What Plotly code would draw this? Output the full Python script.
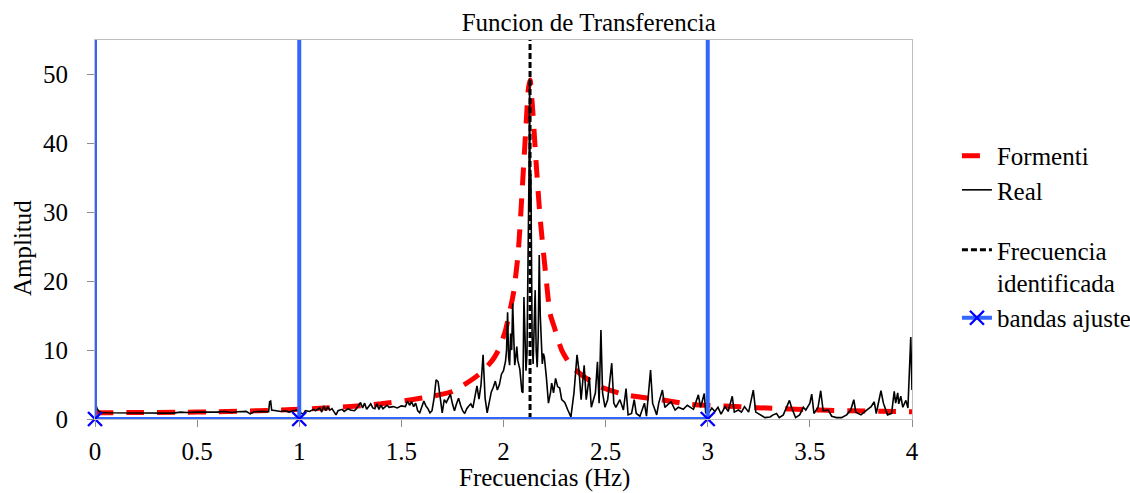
import plotly.graph_objects as go

# Measured transfer function (real record)
real_freq = [
    0.000, 0.005, 0.01, 0.02, 0.03, 0.06, 0.10, 0.15, 0.20, 0.25, 0.30, 0.35, 0.38, 0.42,
    0.45, 0.50, 0.55, 0.60, 0.63, 0.67, 0.70, 0.74, 0.76, 0.78, 0.82, 0.85, 0.855, 0.86,
    0.865, 0.88, 0.91, 0.93, 0.95, 0.97, 0.99,
    1.00, 1.02, 1.03, 1.05, 1.07, 1.08, 1.10, 1.11, 1.12, 1.13, 1.14, 1.15, 1.16, 1.18,
    1.19, 1.21, 1.22, 1.24, 1.25, 1.27, 1.28, 1.30, 1.31, 1.32, 1.33, 1.35, 1.36, 1.37,
    1.38, 1.39, 1.40, 1.41, 1.43, 1.44, 1.46, 1.48, 1.50, 1.52, 1.53, 1.54, 1.55, 1.56,
    1.57, 1.58, 1.59, 1.60, 1.61, 1.62, 1.63, 1.64, 1.65, 1.66, 1.67, 1.68, 1.69, 1.70,
    1.71, 1.72, 1.73, 1.74, 1.75, 1.76, 1.77, 1.78, 1.79, 1.80, 1.81, 1.82, 1.83, 1.84,
    1.85, 1.86, 1.87, 1.88, 1.89, 1.90, 1.91, 1.92, 1.93, 1.94, 1.95, 1.96, 1.97, 1.98,
    1.99, 2.00, 2.01, 2.015, 2.02, 2.025, 2.03, 2.035, 2.04, 2.045, 2.05, 2.055, 2.06,
    2.065, 2.07, 2.08, 2.09, 2.095, 2.10, 2.105, 2.11, 2.115, 2.12, 2.125, 2.128, 2.131,
    2.134, 2.137, 2.14, 2.145, 2.15, 2.155, 2.16, 2.165, 2.17, 2.175, 2.18, 2.185, 2.19,
    2.195, 2.20, 2.21, 2.22, 2.23, 2.236, 2.245, 2.255, 2.265, 2.275, 2.285, 2.30, 2.315,
    2.33, 2.345, 2.36, 2.37, 2.38, 2.395, 2.405, 2.42, 2.43, 2.45, 2.46, 2.468, 2.477,
    2.485, 2.497, 2.51, 2.53, 2.54, 2.55, 2.57, 2.587, 2.60, 2.61, 2.627, 2.64, 2.65,
    2.668, 2.69, 2.70, 2.72, 2.73, 2.75, 2.76, 2.778, 2.79, 2.82, 2.84, 2.856, 2.88, 2.90,
    2.93, 2.954, 2.965, 2.983, 2.99, 3.00, 3.02, 3.035, 3.05, 3.065, 3.085, 3.10, 3.12,
    3.13, 3.15, 3.165, 3.18, 3.20, 3.223, 3.235, 3.256, 3.28, 3.305, 3.32, 3.337, 3.35,
    3.37, 3.40, 3.41, 3.43, 3.45, 3.468, 3.48, 3.50, 3.509, 3.52, 3.54, 3.553, 3.565,
    3.59, 3.607, 3.63, 3.655, 3.68, 3.70, 3.715, 3.725, 3.75, 3.778, 3.80, 3.815, 3.825,
    3.848, 3.86, 3.88, 3.90, 3.913, 3.92, 3.93, 3.935, 3.945, 3.955, 3.97, 3.98, 3.994,
    3.998, 4.00,
]
real_amp = [
    2.6, 2.0, 1.5, 1.1, 0.95, 0.9, 0.9, 0.95, 0.9, 0.95, 0.9, 0.95, 0.85, 1.0,
    0.95, 1.0, 0.95, 1.0, 1.1, 0.95, 1.05, 1.1, 0.75, 1.05, 1.1, 1.05, 2.5, 2.6,
    1.3, 1.2, 1.1, 1.2, 1.0, 1.2, 1.3,
    1.0, 0.7, 1.2, 1.1, 1.4, 1.2, 1.6, 1.0, 1.9, 1.2, 1.8, 1.3, 1.5, 0.6,
    1.2, 1.4, 1.1, 1.5, 1.3, 1.2, 1.5, 2.4, 1.6, 2.3, 1.4, 2.2, 1.6, 1.5,
    2.2, 1.4, 2.0, 1.5, 2.0, 1.7, 1.8, 1.6, 1.9, 1.8, 2.6, 2.0, 2.5, 1.8,
    2.3, 1.2, 0.9, 1.8, 2.6, 1.9, 1.5, 0.9, 1.2, 3.0, 5.7, 5.4, 3.2, 0.9,
    2.8, 2.4, 3.0, 3.6, 2.2, 1.2, 2.2, 3.0, 2.0, 1.2, 0.8, 1.5, 1.9, 2.2,
    1.6, 3.5, 4.8, 2.9, 5.0, 9.3, 3.0, 0.9, 2.5, 3.9, 4.6, 5.5, 4.2, 5.0,
    6.5, 7.0, 8.4, 10.0, 15.5, 9.0, 7.8, 12.4, 10.0, 16.8, 12.0, 7.8, 9.0,
    10.5, 8.5, 7.2, 4.0, 3.8, 17.7, 10.0, 7.0, 9.5, 20.0, 36.0, 49.4, 30.0,
    35.6, 20.0, 12.0, 8.0, 12.0, 18.7, 10.0, 7.5, 12.0, 23.8, 15.0, 9.5, 8.0,
    9.5, 9.0, 6.0, 2.3, 3.8, 5.2, 3.8, 5.9, 4.7, 4.5, 2.8, 2.4, 1.3,
    0.3, 3.8, 9.3, 6.9, 2.8, 7.8, 2.8, 6.1, 1.7, 3.8, 8.3, 2.3, 12.9,
    3.8, 1.7, 2.8, 8.1, 2.3, 1.7, 2.8, 1.3, 4.4, 0.6, 0.8, 2.8, 0.8,
    0.4, 2.3, 0.4, 7.1, 2.3, 0.6, 2.3, 4.2, 1.7, 2.5, 1.3, 1.7, 1.4, 2.0,
    1.4, 3.5, 1.7, 3.7, 0.9, 0.7, 1.6, 1.1, 1.7, 0.7, 1.8, 1.1, 3.3,
    1.0, 1.3, 1.0, 1.8, 1.0, 4.2, 1.0, 0.6, 0.2, 0.3, 0.6, 0.8, 0.2,
    0.6, 2.7, 1.7, 0.2, 0.6, 1.7, 1.3, 2.3, 3.6, 0.8, 1.7, 4.1, 1.2,
    1.3, 0.4, 0.2, 0.2, 0.6, 1.3, 2.8, 1.0, 0.6, 1.3, 1.8, 2.5, 0.8,
    4.1, 2.3, 0.6, 0.8, 4.0, 2.3, 3.8, 2.2, 3.3, 1.7, 2.7, 1.6, 11.9,
    5.6, 4.2,
]

# Fitted (Formenti) transfer function
formenti_freq = [
    0.0, 0.2, 0.4, 0.6, 0.8, 1.0, 1.1, 1.25, 1.4, 1.55, 1.65, 1.75, 1.85, 1.9, 1.95,
    1.98, 2.01, 2.03, 2.05, 2.07, 2.08, 2.097, 2.11, 2.121, 2.13, 2.143, 2.159, 2.179,
    2.208, 2.228, 2.25, 2.285, 2.33, 2.4, 2.48, 2.6, 2.78, 2.92, 3.08, 3.24, 3.4, 3.55,
    3.7, 3.85, 4.0,
]
formenti_amp = [
    0.9, 0.95, 0.97, 1.05, 1.2, 1.4, 1.55, 1.8, 2.2, 2.8, 3.3, 4.0, 5.8, 7.0, 8.7,
    10.3, 12.9, 15.5, 18.5, 23.5, 27.5, 36.0, 42.4, 47.7, 49.2, 44.8, 37.5, 29.3,
    20.6, 15.3, 13.2, 10.0, 7.8, 6.0, 4.6, 3.5, 2.75, 2.1, 1.9, 1.65, 1.45, 1.3,
    1.2, 1.12, 1.05,
]

# Identified natural frequency (Hz)
freq_identificada = 2.13

# Frequency band limits used for the fit (Hz)
bandas = [0, 1, 3]

Y_MAX = 55
FONT = "Liberation Serif"
FS = 25

fig = go.Figure()

fig.add_trace(go.Scatter(
    x=formenti_freq, y=formenti_amp, mode="lines", name="Formenti",
    line=dict(color="#FF0000", width=5, dash="18px,13px", shape="spline", smoothing=0.6),
    legend="legend",
))
fig.add_trace(go.Scatter(
    x=real_freq, y=real_amp, mode="lines", name="Real",
    line=dict(color="black", width=1.6),
    legend="legend2",
))
fig.add_trace(go.Scatter(
    x=[freq_identificada, freq_identificada], y=[0, Y_MAX], mode="lines",
    name="Frecuencia<br>identificada",
    line=dict(color="black", width=3, dash="6px,3px"),
    legend="legend3",
))

# Vertical band limits
vx, vy = [], []
for b in bandas:
    vx += [b, b, None]
    vy += [0, Y_MAX, None]
fig.add_trace(go.Scatter(
    x=vx, y=vy, mode="lines", showlegend=False,
    line=dict(color="#3366FF", width=4),
))
fig.add_trace(go.Scatter(
    x=bandas, y=[0] * len(bandas), mode="lines+markers", name="bandas ajuste",
    line=dict(color="#3366FF", width=4),
    marker=dict(symbol="x-thin", size=14, line=dict(color="#0000FF", width=2.4)),
    cliponaxis=False,
    legend="legend4",
))

axis_font = dict(family=FONT, size=FS, color="black")
legend_common = dict(xanchor="left", yanchor="middle", font=axis_font,
                     bgcolor="rgba(0,0,0,0)")
LX = 1.055

fig.update_layout(
    width=1130, height=493,
    margin=dict(l=95, r=218, t=40, b=74, autoexpand=False),
    paper_bgcolor="white", plot_bgcolor="white",
    font=axis_font,
    title=dict(text="Funcion de Transferencia", x=0.521, xref="container",
               xanchor="center", y=0.955, yref="container", yanchor="middle",
               font=axis_font),
    xaxis=dict(
        range=[0, 4], tickmode="array", tickvals=[0, 0.5, 1, 1.5, 2, 2.5, 3, 3.5, 4],
        ticktext=["0", "0.5", "1", "1.5", "2", "2.5", "3", "3.5", "4"],
        showgrid=False, zeroline=False, showline=True, linecolor="#BFBFBF", linewidth=1.2,
        mirror=True, ticks="outside", ticklen=7, tickcolor="#8C8C8C", tickwidth=1,
        ticklabelstandoff=3, tickfont=axis_font,
    ),
    yaxis=dict(
        range=[0, Y_MAX], tickmode="array", tickvals=[0, 10, 20, 30, 40, 50],
        showgrid=False, zeroline=True, zerolinecolor="black", zerolinewidth=1,
        showline=True, linecolor="#BFBFBF", linewidth=1.2, mirror=True,
        ticks="outside", ticklen=7, tickcolor="#8C8C8C", tickwidth=1,
        ticklabelstandoff=14, tickfont=axis_font,
    ),
    legend=dict(x=LX, y=0.694, **legend_common),
    legend2=dict(x=LX, y=0.604, **legend_common),
    legend3=dict(x=LX, y=0.4036, valign="top", **legend_common),
    legend4=dict(x=LX, y=0.2665, **legend_common),
    annotations=[
        dict(text="Frecuencias (Hz)", xref="paper", yref="paper", x=0.5496, y=-0.1557,
             xanchor="center", yanchor="middle", showarrow=False, font=axis_font),
        dict(text="Amplitud", xref="paper", yref="paper", x=-0.0894, y=0.451,
             xanchor="center", yanchor="middle", textangle=-90, showarrow=False,
             font=axis_font),
    ],
)

fig.write_html("out.html")
